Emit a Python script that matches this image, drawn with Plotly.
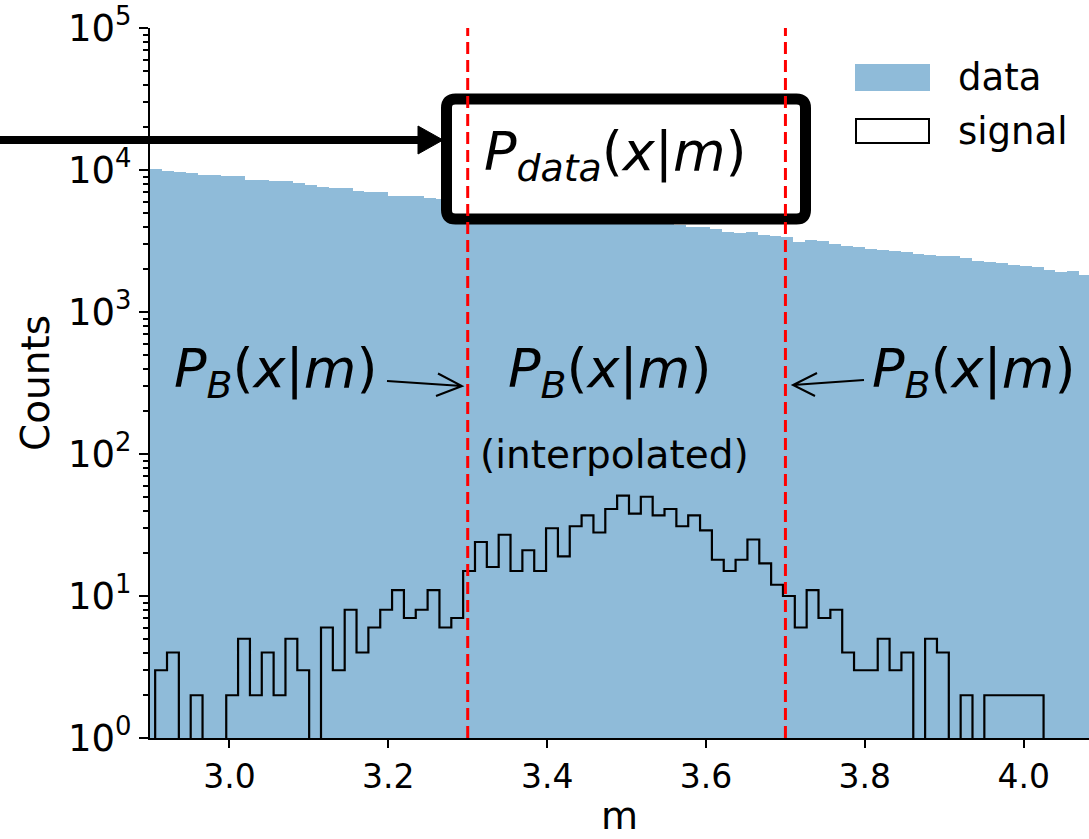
import numpy as np
import plotly.graph_objects as go

# ---------------- data ----------------
# data histogram: 80 bins of width 0.015 starting at m = 2.9
data_bin_start = 2.9
data_bin_width = 0.015
data_counts = [10110, 9840, 9630, 9480, 9270, 9270, 9120, 9120, 8540, 8540,
               8320, 8320, 8140, 7900, 7640, 7440, 7440, 7150, 6990, 6990,
               6610, 6610, 6610, 6400, 6200, 6150, 6050, 5890, 5720, 5700,
               5540, 5320, 5290, 5290, 5060, 4960, 4850, 4790, 4680, 4600,
               4490, 4430, 4320, 4210, 4120, 3990, 3950, 3820, 3680, 3580,
               3640, 3480, 3420, 3370, 3130, 3200, 3150, 3000, 2920, 2860,
               2770, 2730, 2710, 2660, 2580, 2520, 2480, 2480, 2390, 2300,
               2240, 2200, 2130, 2110, 2070, 1980, 1900, 1950, 1820, 1790]

# signal histogram: 75 bins between min and max of the signal sample
signal_lo = 2.9065
signal_hi = 4.0250
signal_counts = [3, 4, 0, 2, 0, 0, 2, 5, 2, 4, 2, 5, 3, 0, 6, 3, 8, 4, 6, 8,
                 11, 7, 8, 11, 6, 7, 15, 24, 16, 27, 15, 21, 15, 30, 19, 31, 37, 28, 41, 51,
                 38, 50, 37, 41, 31, 37, 29, 18, 15, 18, 25, 17, 12, 10, 6, 11, 7, 8, 4, 3,
                 3, 5, 3, 4, 0, 5, 4, 0, 2, 0, 2, 2, 2, 2, 2]

window_lo, window_hi = 3.3, 3.7
x_range = [2.9, 4.0822]
y_tick_powers = [0, 1, 2, 3, 4, 5]
x_ticks = [3.0, 3.2, 3.4, 3.6, 3.8, 4.0]

# ---------------- geometry helpers (figure pixels -> paper) ----------------
W, H = 1089, 839
ML, MR, MT, MB = 150, 0, 28, 101
PW, PH = W - ML - MR, H - MT - MB


def px(x):
    return (x - ML) / PW


def py(y):
    return (H - MB - y) / PH


BLUE = "rgb(143,187,217)"
FONT = "DejaVu Sans"

fig = go.Figure()

# data histogram (filled)
d_edges = data_bin_start + data_bin_width * np.arange(len(data_counts) + 1)
d_centers = 0.5 * (d_edges[:-1] + d_edges[1:])
fig.add_trace(go.Bar(x=d_centers, y=data_counts, width=data_bin_width,
                     marker=dict(color=BLUE, line=dict(width=0)),
                     name="data", showlegend=False))

# signal histogram (step outline)
s_edges = np.linspace(signal_lo, signal_hi, len(signal_counts) + 1)
floor = 1e-3
sc = [c if c > 0 else floor for c in signal_counts]
sx = [s_edges[0]] + list(s_edges[:-1]) + [s_edges[-1], s_edges[-1]]
sy = [floor] + sc + [sc[-1], floor]
fig.add_trace(go.Scatter(x=sx, y=sy, mode="lines", line_shape="hv",
                         line=dict(color="black", width=2.2),
                         name="signal", showlegend=False))

shapes = []

# box around P_data (rounded corners)
bx0, bx1, by0, by1 = px(446.5), px(805.5), py(99), py(219)
rx, ry = 9 / PW, 9 / PH
path = (f"M {bx0+rx},{by0} L {bx1-rx},{by0} Q {bx1},{by0} {bx1},{by0-ry} "
        f"L {bx1},{by1+ry} Q {bx1},{by1} {bx1-rx},{by1} "
        f"L {bx0+rx},{by1} Q {bx0},{by1} {bx0},{by1+ry} "
        f"L {bx0},{by0-ry} Q {bx0},{by0} {bx0+rx},{by0} Z")
shapes.append(dict(type="path", xref="paper", yref="paper", path=path,
                   fillcolor="white", line=dict(color="black", width=11),
                   layer="above"))

# red dashed window lines
for xv in (window_lo, window_hi):
    shapes.append(dict(type="line", xref="x", yref="paper", x0=xv, x1=xv,
                       y0=0, y1=1, line=dict(color="red", width=3, dash="12px,6px"),
                       layer="above"))

# thick arrow from the left edge to the box
shapes.append(dict(type="line", xref="paper", yref="paper",
                   x0=px(0), x1=px(424), y0=py(140), y1=py(140),
                   line=dict(color="black", width=8), layer="above"))
shapes.append(dict(type="path", xref="paper", yref="paper",
                   path=f"M {px(418)},{py(126)} L {px(443)},{py(140)} L {px(418)},{py(154)} Z",
                   fillcolor="black", line=dict(color="black", width=1), layer="above"))

# thin arrows to the window lines
for (tx, ty), (hx, hy), (u1, u2) in [
        ((387, 381), (462, 386), ((438, 373.5), (436, 396))),
        ((864, 380), (793, 385), ((817, 373), (815, 396)))]:
    shapes.append(dict(type="path", xref="paper", yref="paper",
                       path=(f"M {px(tx)},{py(ty)} L {px(hx)},{py(hy)} "
                             f"M {px(u1[0])},{py(u1[1])} L {px(hx)},{py(hy)} "
                             f"L {px(u2[0])},{py(u2[1])}"),
                       line=dict(color="black", width=2), layer="above"))

# legend (drawn by hand to match patch sizes)
shapes.append(dict(type="rect", xref="paper", yref="paper",
                   x0=px(855), x1=px(930), y0=py(64), y1=py(91),
                   fillcolor=BLUE, line=dict(width=0), layer="above"))
shapes.append(dict(type="rect", xref="paper", yref="paper",
                   x0=px(856), x1=px(929), y0=py(119), y1=py(143),
                   fillcolor="white", line=dict(color="black", width=2), layer="above"))

annotations = []
PB = "<i>P</i><sub><i>B</i></sub>(<i>x</i>|<i>m</i>)"
for cx in (275, 609, 973):
    annotations.append(dict(xref="paper", yref="paper", x=px(cx), y=py(372),
                            text=PB, showarrow=False, xanchor="center", yanchor="middle",
                            font=dict(family=FONT, size=54, color="black")))
annotations.append(dict(xref="paper", yref="paper", x=px(614), y=py(454),
                        text="(interpolated)", showarrow=False,
                        xanchor="center", yanchor="middle",
                        font=dict(family=FONT, size=39, color="black")))
annotations.append(dict(xref="paper", yref="paper", x=px(615), y=py(155),
                        text="<i>P</i><sub><i>data</i></sub>(<i>x</i>|<i>m</i>)",
                        showarrow=False, xanchor="center", yanchor="middle",
                        font=dict(family=FONT, size=54, color="black")))
for label, ycen in (("data", 77), ("signal", 131)):
    annotations.append(dict(xref="paper", yref="paper", x=px(956), y=py(ycen),
                            text=label, showarrow=False, xanchor="left",
                            yanchor="middle",
                            font=dict(family=FONT, size=37, color="black")))

minor_vals = [m * 10 ** p for p in range(0, 5) for m in range(2, 10)]

fig.update_layout(
    width=W, height=H,
    margin=dict(l=ML, r=MR, t=MT, b=MB, pad=0),
    paper_bgcolor="white", plot_bgcolor="white",
    bargap=0, barmode="overlay",
    shapes=shapes, annotations=annotations,
    showlegend=False,
    font=dict(family=FONT, color="black"),
    xaxis=dict(range=x_range, tickvals=x_ticks,
               ticktext=[f"{v:.1f}" for v in x_ticks],
               ticks="outside", ticklen=8, tickwidth=2, tickcolor="black",
               showline=True, linecolor="black", linewidth=2,
               showgrid=False, zeroline=False,
               tickfont=dict(family=FONT, size=33),
               title=dict(text="m", font=dict(family=FONT, size=38), standoff=8)),
    yaxis=dict(type="log", range=[0, 5],
               tickvals=[10 ** p for p in y_tick_powers],
               ticktext=[f"10<sup>{p}</sup>" for p in y_tick_powers],
               ticks="outside", ticklen=9, tickwidth=2, tickcolor="black",
               minor=dict(tickvals=minor_vals, ticks="outside", ticklen=5,
                          tickwidth=1.5, tickcolor="black", showgrid=False),
               showline=True, linecolor="black", linewidth=2,
               showgrid=False, zeroline=False,
               tickfont=dict(family=FONT, size=37),
               title=dict(text="Counts", font=dict(family=FONT, size=39), standoff=6)),
)

fig.write_html("out.html")
